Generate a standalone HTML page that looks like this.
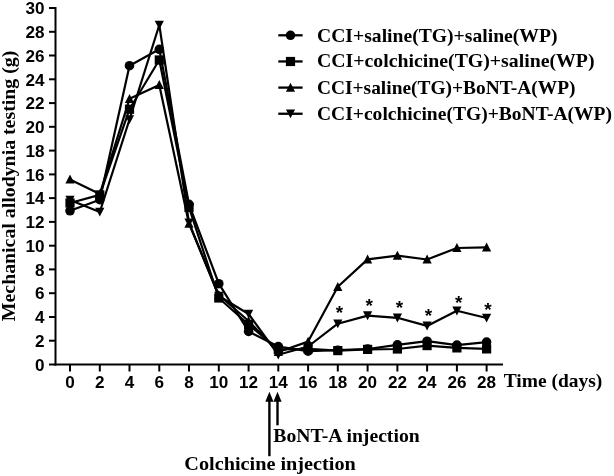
<!DOCTYPE html>
<html><head><meta charset="utf-8"><title>Mechanical allodynia testing</title>
<style>
html,body{margin:0;padding:0;background:#fff;}
body{width:614px;height:476px;overflow:hidden;}
svg{display:block;}
.sans{font-family:"Liberation Sans",Arial,sans-serif;font-weight:bold;font-size:17.1px;fill:#000;}
.serif{font-family:"Liberation Serif","Times New Roman",serif;font-weight:bold;fill:#000;}
.star{font-family:"Liberation Sans",Arial,sans-serif;font-weight:bold;font-size:19px;fill:#000;}
</style></head><body>
<svg width="614" height="476" viewBox="0 0 614 476">
<rect width="614" height="476" fill="#fff"/>

<g stroke="#000" stroke-width="2" fill="none" stroke-linecap="butt">
<path d="M55.5 7.0V365.5"/>
<path d="M54.5 364.5H503"/>
<path d="M49 364.5H55.5"/>
<path d="M49 340.7H55.5"/>
<path d="M49 317.0H55.5"/>
<path d="M49 293.2H55.5"/>
<path d="M49 269.4H55.5"/>
<path d="M49 245.7H55.5"/>
<path d="M49 221.9H55.5"/>
<path d="M49 198.1H55.5"/>
<path d="M49 174.4H55.5"/>
<path d="M49 150.6H55.5"/>
<path d="M49 126.8H55.5"/>
<path d="M49 103.1H55.5"/>
<path d="M49 79.3H55.5"/>
<path d="M49 55.5H55.5"/>
<path d="M49 31.8H55.5"/>
<path d="M49 8.0H55.5"/>
<path d="M70.0 364.5V371.5"/>
<path d="M99.8 364.5V371.5"/>
<path d="M129.5 364.5V371.5"/>
<path d="M159.3 364.5V371.5"/>
<path d="M189.0 364.5V371.5"/>
<path d="M218.8 364.5V371.5"/>
<path d="M248.6 364.5V371.5"/>
<path d="M278.3 364.5V371.5"/>
<path d="M308.1 364.5V371.5"/>
<path d="M337.8 364.5V371.5"/>
<path d="M367.6 364.5V371.5"/>
<path d="M397.4 364.5V371.5"/>
<path d="M427.1 364.5V371.5"/>
<path d="M456.9 364.5V371.5"/>
<path d="M486.6 364.5V371.5"/>
</g>
<g class="sans" text-anchor="end">
<text x="44.4" y="370.7">0</text>
<text x="44.4" y="346.9">2</text>
<text x="44.4" y="323.2">4</text>
<text x="44.4" y="299.4">6</text>
<text x="44.4" y="275.6">8</text>
<text x="44.4" y="251.9">10</text>
<text x="44.4" y="228.1">12</text>
<text x="44.4" y="204.3">14</text>
<text x="44.4" y="180.6">16</text>
<text x="44.4" y="156.8">18</text>
<text x="44.4" y="133.0">20</text>
<text x="44.4" y="109.3">22</text>
<text x="44.4" y="85.5">24</text>
<text x="44.4" y="61.7">26</text>
<text x="44.4" y="38.0">28</text>
<text x="44.4" y="14.2">30</text>
</g>
<g class="sans" text-anchor="middle">
<text x="70.0" y="388.4">0</text>
<text x="99.8" y="388.4">2</text>
<text x="129.5" y="388.4">4</text>
<text x="159.3" y="388.4">6</text>
<text x="189.0" y="388.4">8</text>
<text x="218.8" y="388.4">10</text>
<text x="248.6" y="388.4">12</text>
<text x="278.3" y="388.4">14</text>
<text x="308.1" y="388.4">16</text>
<text x="337.8" y="388.4">18</text>
<text x="367.6" y="388.4">20</text>
<text x="397.4" y="388.4">22</text>
<text x="427.1" y="388.4">24</text>
<text x="456.9" y="388.4">26</text>
<text x="486.6" y="388.4">28</text>
</g>
<polyline points="70.0,210.8 99.8,199.7 129.5,65.7 159.3,49.3 189.0,204.3 218.8,283.7 248.6,331.4 278.3,346.6 308.1,351.2 337.8,350.2 367.6,349.0 397.4,344.8 427.1,341.2 456.9,345.1 486.6,342.1" fill="none" stroke="#000" stroke-width="2.2" stroke-linejoin="round"/>
<polyline points="70.0,203.0 99.8,194.9 129.5,109.2 159.3,60.0 189.0,207.4 218.8,298.0 248.6,324.5 278.3,349.5 308.1,348.8 337.8,350.6 367.6,349.4 397.4,349.0 427.1,345.6 456.9,347.9 486.6,348.9" fill="none" stroke="#000" stroke-width="2.2" stroke-linejoin="round"/>
<polyline points="70.0,179.5 99.8,194.0 129.5,98.8 159.3,85.0 189.0,223.7 218.8,295.0 248.6,321.0 278.3,352.0 308.1,341.6 337.8,286.8 367.6,259.4 397.4,255.7 427.1,259.5 456.9,248.0 486.6,247.3" fill="none" stroke="#000" stroke-width="2.2" stroke-linejoin="round"/>
<polyline points="70.0,200.0 99.8,212.0 129.5,119.5 159.3,25.0 189.0,222.7 218.8,296.0 248.6,314.0 278.3,354.8 308.1,346.5 337.8,323.7 367.6,315.6 397.4,317.8 427.1,325.9 456.9,310.8 486.6,318.0" fill="none" stroke="#000" stroke-width="2.2" stroke-linejoin="round"/>
<g fill="#000"><circle cx="70.0" cy="210.8" r="4.8"/><circle cx="99.8" cy="199.7" r="4.8"/><circle cx="129.5" cy="65.7" r="4.8"/><circle cx="159.3" cy="49.3" r="4.8"/><circle cx="189.0" cy="204.3" r="4.8"/><circle cx="218.8" cy="283.7" r="4.8"/><circle cx="248.6" cy="331.4" r="4.8"/><circle cx="278.3" cy="346.6" r="4.8"/><circle cx="308.1" cy="351.2" r="4.8"/><circle cx="337.8" cy="350.2" r="4.8"/><circle cx="367.6" cy="349.0" r="4.8"/><circle cx="397.4" cy="344.8" r="4.8"/><circle cx="427.1" cy="341.2" r="4.8"/><circle cx="456.9" cy="345.1" r="4.8"/><circle cx="486.6" cy="342.1" r="4.8"/></g>
<g fill="#000"><rect x="65.4" y="198.4" width="9.2" height="9.2"/><rect x="95.2" y="190.3" width="9.2" height="9.2"/><rect x="124.9" y="104.6" width="9.2" height="9.2"/><rect x="154.7" y="55.4" width="9.2" height="9.2"/><rect x="184.4" y="202.8" width="9.2" height="9.2"/><rect x="214.2" y="293.4" width="9.2" height="9.2"/><rect x="244.0" y="319.9" width="9.2" height="9.2"/><rect x="273.7" y="344.9" width="9.2" height="9.2"/><rect x="303.5" y="344.2" width="9.2" height="9.2"/><rect x="333.2" y="346.0" width="9.2" height="9.2"/><rect x="363.0" y="344.8" width="9.2" height="9.2"/><rect x="392.8" y="344.4" width="9.2" height="9.2"/><rect x="422.5" y="341.0" width="9.2" height="9.2"/><rect x="452.3" y="343.3" width="9.2" height="9.2"/><rect x="482.0" y="344.3" width="9.2" height="9.2"/></g>
<g fill="#000"><path d="M70.0 174.6L74.6 183.6L65.4 183.6Z"/><path d="M99.8 189.1L104.4 198.1L95.2 198.1Z"/><path d="M129.5 93.9L134.1 102.9L124.9 102.9Z"/><path d="M159.3 80.1L163.9 89.1L154.7 89.1Z"/><path d="M189.0 218.8L193.6 227.8L184.4 227.8Z"/><path d="M218.8 290.1L223.4 299.1L214.2 299.1Z"/><path d="M248.6 316.1L253.2 325.1L244.0 325.1Z"/><path d="M278.3 347.1L282.9 356.1L273.7 356.1Z"/><path d="M308.1 336.7L312.7 345.7L303.5 345.7Z"/><path d="M337.8 281.9L342.4 290.9L333.2 290.9Z"/><path d="M367.6 254.5L372.2 263.5L363.0 263.5Z"/><path d="M397.4 250.8L402.0 259.8L392.8 259.8Z"/><path d="M427.1 254.6L431.7 263.6L422.5 263.6Z"/><path d="M456.9 243.1L461.5 252.1L452.3 252.1Z"/><path d="M486.6 242.4L491.2 251.4L482.0 251.4Z"/></g>
<g fill="#000"><path d="M70.0 204.6L74.6 195.7L65.4 195.7Z"/><path d="M99.8 216.6L104.4 207.7L95.2 207.7Z"/><path d="M129.5 124.1L134.1 115.2L124.9 115.2Z"/><path d="M159.3 29.6L163.9 20.7L154.7 20.7Z"/><path d="M189.0 227.3L193.6 218.4L184.4 218.4Z"/><path d="M218.8 300.6L223.4 291.7L214.2 291.7Z"/><path d="M248.6 318.6L253.2 309.7L244.0 309.7Z"/><path d="M278.3 359.4L282.9 350.5L273.7 350.5Z"/><path d="M308.1 351.1L312.7 342.2L303.5 342.2Z"/><path d="M337.8 328.3L342.4 319.4L333.2 319.4Z"/><path d="M367.6 320.2L372.2 311.3L363.0 311.3Z"/><path d="M397.4 322.4L402.0 313.5L392.8 313.5Z"/><path d="M427.1 330.5L431.7 321.6L422.5 321.6Z"/><path d="M456.9 315.4L461.5 306.5L452.3 306.5Z"/><path d="M486.6 322.6L491.2 313.7L482.0 313.7Z"/></g>
<g class="star" text-anchor="middle">
<text x="339.4" y="318.5">*</text>
<text x="369.1" y="312.2">*</text>
<text x="399.4" y="313.9">*</text>
<text x="428.4" y="322.1">*</text>
<text x="458.6" y="308.6">*</text>
<text x="488.0" y="315.7">*</text>
</g>
<path d="M278.3 35.3H302.6" stroke="#000" stroke-width="2.3"/>
<g fill="#000"><circle cx="290.5" cy="35.3" r="4.8"/></g>
<text class="serif" font-size="19.5" x="317" y="41.5" textLength="240.5" lengthAdjust="spacingAndGlyphs">CCI+saline(TG)+saline(WP)</text>
<path d="M278.3 61.45H302.6" stroke="#000" stroke-width="2.3"/>
<g fill="#000"><rect x="285.9" y="56.9" width="9.2" height="9.2"/></g>
<text class="serif" font-size="19.5" x="317" y="67.2" textLength="277.5" lengthAdjust="spacingAndGlyphs">CCI+colchicine(TG)+saline(WP)</text>
<path d="M278.3 87.6H302.6" stroke="#000" stroke-width="2.3"/>
<g fill="#000"><path d="M290.5 82.7L295.1 91.7L285.9 91.7Z"/></g>
<text class="serif" font-size="19.5" x="317" y="93.8" textLength="258.5" lengthAdjust="spacingAndGlyphs">CCI+saline(TG)+BoNT-A(WP)</text>
<path d="M278.3 113.75H302.6" stroke="#000" stroke-width="2.3"/>
<g fill="#000"><path d="M290.5 118.3L295.1 109.5L285.9 109.5Z"/></g>
<text class="serif" font-size="19.5" x="317" y="119.9" textLength="295" lengthAdjust="spacingAndGlyphs">CCI+colchicine(TG)+BoNT-A(WP)</text>
<text class="serif" font-size="19.5" x="503.7" y="387" textLength="98.6" lengthAdjust="spacingAndGlyphs">Time (days)</text>
<text class="serif" font-size="19.5" transform="translate(15 321.2) rotate(-90)" textLength="270.5" lengthAdjust="spacingAndGlyphs">Mechanical allodynia testing (g)</text>
<path d="M269.4 391.8L273.5 401.8H265.29999999999995Z" fill="#000"/><path d="M269.4 400.8V456.2" stroke="#000" stroke-width="2.4"/>
<path d="M277.5 391.8L281.6 401.8H273.4Z" fill="#000"/><path d="M277.5 400.8V425.3" stroke="#000" stroke-width="2.4"/>
<text class="serif" font-size="19.5" x="273.3" y="441.5" textLength="146.4" lengthAdjust="spacingAndGlyphs">BoNT-A injection</text>
<text class="serif" font-size="19.5" x="184.3" y="469.5" textLength="171.5" lengthAdjust="spacingAndGlyphs">Colchicine injection</text>
</svg></body></html>
